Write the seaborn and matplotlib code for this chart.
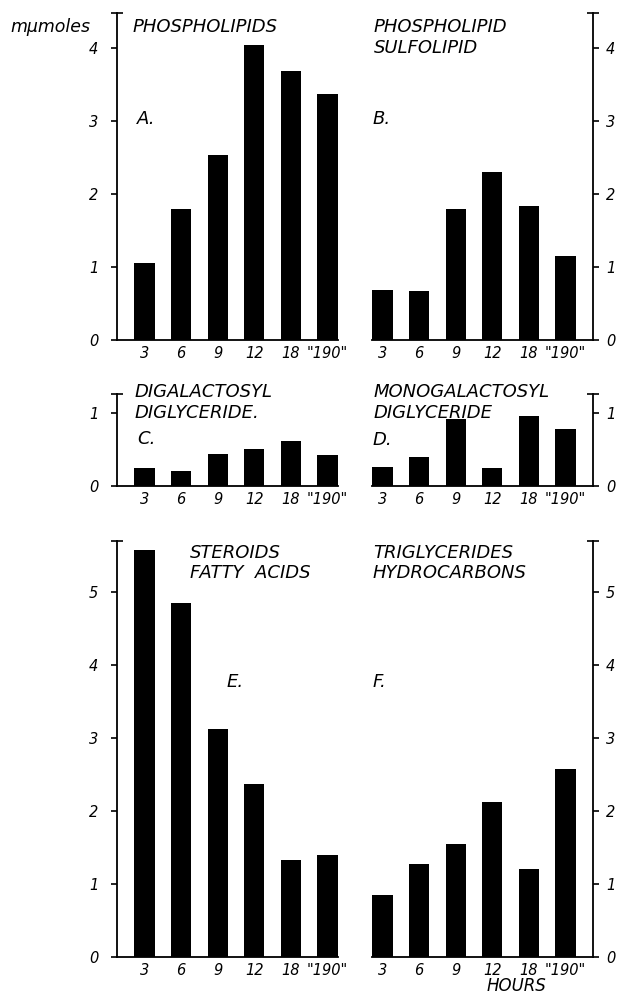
import matplotlib
matplotlib.use("Agg")
import matplotlib.pyplot as plt
import seaborn as sns
import pandas as pd

# ---- data ----
hours = ["3", "6", "9", "12", "18", '"190"']
phospholipids = [1.05, 1.79, 2.53, 4.04, 3.68, 3.37]
phospholipid_sulfolipid = [0.69, 0.67, 1.79, 2.30, 1.83, 1.15]
digalactosyl_diglyceride = [0.24, 0.20, 0.44, 0.51, 0.61, 0.42]
monogalactosyl_diglyceride = [0.26, 0.40, 0.92, 0.25, 0.96, 0.78]
steroids_fatty_acids = [5.58, 4.85, 3.12, 2.37, 1.33, 1.40]
triglycerides_hydrocarbons = [0.85, 1.27, 1.55, 2.12, 1.20, 2.58]

ticks_top = [0, 1, 2, 3, 4]
ticks_mid = [0, 1]
ticks_bot = [0, 1, 2, 3, 4, 5]

sns.set_style("ticks")
plt.rcParams["font.family"] = ["DejaVu Sans"]
plt.rcParams["font.style"] = "italic"
plt.rcParams["text.color"] = "black"
plt.rcParams["xtick.color"] = "black"
plt.rcParams["ytick.color"] = "black"
plt.rcParams["xtick.labelcolor"] = "black"
plt.rcParams["ytick.labelcolor"] = "black"

W, H = 623, 996
fig = plt.figure(figsize=(W / 100, H / 100), dpi=100)

PX_PER_UNIT = 73.0
CAT_PX = 36.6
AX_W = 6.03 * CAT_PX


def fx(x):
    return x / W


def fy(y):
    return 1 - y / H


def make_panel(values, side, zero_px, ymax, yticks):
    top_px = zero_px - ymax * PX_PER_UNIT
    if side == "left":
        left_px = 117
        xlim = (-0.75, 5.28)
    else:
        left_px = 593 - AX_W
        xlim = (-0.28, 5.75)
    ax = fig.add_axes([fx(left_px), fy(zero_px), AX_W / W, (zero_px - top_px) / H])
    df = pd.DataFrame({"hours": hours, "value": values})
    sns.barplot(data=df, x="hours", y="value", order=hours, color="black",
                saturation=1, width=0.55, ax=ax, edgecolor="black", linewidth=0)
    ax.set_xlim(*xlim)
    ax.set_ylim(0, ymax)
    ax.set_xlabel("")
    ax.set_ylabel("")
    ax.set_yticks(yticks)
    ax.set_yticklabels([str(t) for t in yticks])
    ax.set_yticks([ymax], minor=True)
    ax.tick_params(axis="x", length=0, pad=4, labelsize=10.5, labelcolor="black")
    ax.tick_params(axis="y", which="major", direction="out", length=4.5, width=1.2,
                   labelsize=10.5, pad=9 if side == "left" else 5,
                   color="black", labelcolor="black")
    ax.tick_params(axis="y", which="minor", direction="inout", length=8, width=1.2,
                   color="black")
    for s in ax.spines.values():
        s.set_linewidth(1.3)
        s.set_color("black")
    ax.spines["top"].set_visible(False)
    if side == "left":
        ax.spines["right"].set_visible(False)
    else:
        ax.spines["left"].set_visible(False)
        ax.yaxis.tick_right()
    for lbl in ax.get_xticklabels() + ax.get_yticklabels():
        lbl.set_fontstyle("italic")
        lbl.set_color("black")
    return ax


make_panel(phospholipids, "left", 340, 4.48, ticks_top)
make_panel(phospholipid_sulfolipid, "right", 340, 4.48, ticks_top)
make_panel(digalactosyl_diglyceride, "left", 486, 1.26, ticks_mid)
make_panel(monogalactosyl_diglyceride, "right", 486, 1.26, ticks_mid)
make_panel(steroids_fatty_acids, "left", 957, 5.70, ticks_bot)
make_panel(triglycerides_hydrocarbons, "right", 957, 5.70, ticks_bot)


def txt(x, y, s, size=13):
    fig.text(fx(x), fy(y), s, ha="left", va="baseline", fontsize=size,
             fontstyle="italic", color="black")


# titles
txt(133, 32, "PHOSPHOLIPIDS")
txt(374, 32, "PHOSPHOLIPID")
txt(374, 53, "SULFOLIPID")
txt(135, 397, "DIGALACTOSYL")
txt(135, 418, "DIGLYCERIDE.")
txt(374, 397, "MONOGALACTOSYL")
txt(374, 418, "DIGLYCERIDE")
txt(190, 558, "STEROIDS")
txt(190, 578, "FATTY  ACIDS")
txt(373, 558, "TRIGLYCERIDES")
txt(373, 578, "HYDROCARBONS")

# panel letters
txt(137, 124, "A.")
txt(373, 124, "B.")
txt(137, 444, "C.")
txt(373, 445, "D.")
txt(227, 687, "E.")
txt(373, 687, "F.")

# axis labels
txt(10, 32, "m\u03bcmoles", size=12.5)
txt(487, 991, "HOURS", size=12)

fig.savefig("out.png", dpi=100)
